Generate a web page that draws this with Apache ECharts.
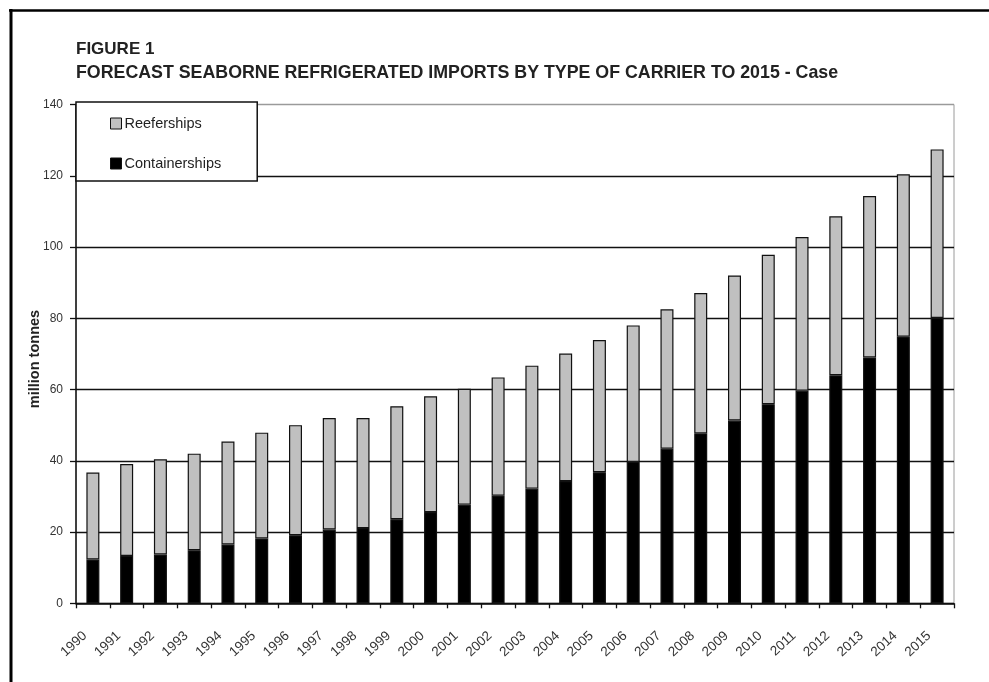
<!DOCTYPE html>
<html>
<head>
<meta charset="utf-8">
<script src="https://cdn.jsdelivr.net/npm/echarts@6/dist/echarts.min.js"></script>
<style>
  html, body { margin: 0; padding: 0; background: #fff; }
  #chart { width: 989px; height: 682px; }
</style>
</head>
<body>
<div id="chart"></div>
<script>
// Forecast seaborne refrigerated imports, million tonnes
const years = ['1990','1991','1992','1993','1994','1995','1996','1997','1998','1999','2000','2001','2002',
               '2003','2004','2005','2006','2007','2008','2009','2010','2011','2012','2013','2014','2015'];
const containerships = [12.3, 13.3, 13.7, 14.9, 16.5, 18.2, 19.1, 20.7, 21.1, 23.6, 25.6, 27.7, 30.2,
                        32.2, 34.3, 36.8, 39.7, 43.4, 47.7, 51.3, 55.9, 59.7, 64.0, 69.0, 74.8, 80.1];
const reeferships = [24.4, 25.8, 26.7, 27.1, 28.9, 29.7, 30.9, 31.3, 30.9, 31.7, 32.5, 32.5, 33.2,
                     34.5, 35.8, 37.1, 38.3, 39.1, 39.4, 40.7, 41.9, 43.1, 44.6, 45.3, 45.6, 47.3];
const yTicks = [0, 20, 40, 60, 80, 100, 120, 140];

const FONT = '"Liberation Sans", Arial, sans-serif';
const chart = echarts.init(document.getElementById('chart'), null, { renderer: 'canvas' });

chart.setOption({
  animation: false,
  backgroundColor: '#ffffff',
  grid: {
    left: 76, right: 35, top: 104.5, bottom: 78.7,
    show: true, borderColor: '#9a9a9a', borderWidth: 1, backgroundColor: 'transparent'
  },
  legend: {
    data: ['Reeferships', 'Containerships'],
    orient: 'vertical',
    left: 76, top: 102,
    padding: [14, 36, 10, 34],
    itemGap: 25,
    icon: 'rect',
    itemWidth: 11, itemHeight: 11,
    backgroundColor: '#ffffff',
    borderColor: '#111',
    borderWidth: 1.5,
    borderRadius: 0,
    z: 10,
    itemStyle: { borderColor: '#111', borderWidth: 1 },
    textStyle: { fontFamily: FONT, fontSize: 14.5, color: '#222', padding: [0, 0, 0, -2] }
  },
  xAxis: {
    type: 'category',
    data: years,
    axisLine: { lineStyle: { color: '#111', width: 1.5 } },
    axisTick: { show: true, length: 5, lineStyle: { color: '#111', width: 1.3 } },
    axisLabel: {
      interval: 0, rotate: 43, margin: 23,
      padding: [0, 11, 0, 0],
      fontFamily: FONT, fontSize: 13.5, color: '#333'
    },
    splitLine: { show: false }
  },
  yAxis: {
    type: 'value',
    min: yTicks[0], max: yTicks[yTicks.length - 1], interval: 20,
    axisLine: { show: true, lineStyle: { color: '#111', width: 1.5 } },
    axisTick: { show: true, length: 6, lineStyle: { color: '#111', width: 1.3 } },
    axisLabel: { margin: 13, fontFamily: FONT, fontSize: 12, color: '#333' },
    splitLine: {
      show: true,
      lineStyle: {
        color: ['#111', '#111', '#111', '#111', '#111', '#111', '#111', '#9a9a9a'],
        width: 1.3
      }
    }
  },
  series: [
    {
      name: 'Containerships',
      type: 'bar',
      stack: 'carriers',
      data: containerships,
      barWidth: 13,
      itemStyle: { color: '#000000', borderColor: '#111', borderWidth: 1.2 }
    },
    {
      name: 'Reeferships',
      type: 'bar',
      stack: 'carriers',
      data: reeferships,
      barWidth: 13,
      itemStyle: { color: '#c0c0c0', borderColor: '#111', borderWidth: 1.2 }
    }
  ],
  graphic: [
    // page frame (top and left edges)
    { type: 'line', shape: { x1: 9, y1: 10.5, x2: 989, y2: 10.5 }, style: { stroke: '#000', lineWidth: 2.5 }, z: 100 },
    { type: 'line', shape: { x1: 11, y1: 9, x2: 11, y2: 682 }, style: { stroke: '#000', lineWidth: 3 }, z: 100 },
    {
      type: 'text', x: 76, y: 49.5,
      style: { text: 'FIGURE 1', font: 'bold 17px ' + FONT, fill: '#222', align: 'left', verticalAlign: 'middle' }
    },
    {
      type: 'text', x: 76, y: 73,
      style: {
        text: 'FORECAST SEABORNE REFRIGERATED IMPORTS BY TYPE OF CARRIER TO 2015 - Case',
        font: 'bold 17.8px ' + FONT, fill: '#222', align: 'left', verticalAlign: 'middle'
      }
    },
    {
      type: 'text', x: 35, y: 359, rotation: Math.PI / 2,
      style: { text: 'million tonnes', font: 'bold 14.5px ' + FONT, fill: '#222', align: 'center', verticalAlign: 'middle' }
    }
  ]
});
</script>
</body>
</html>
